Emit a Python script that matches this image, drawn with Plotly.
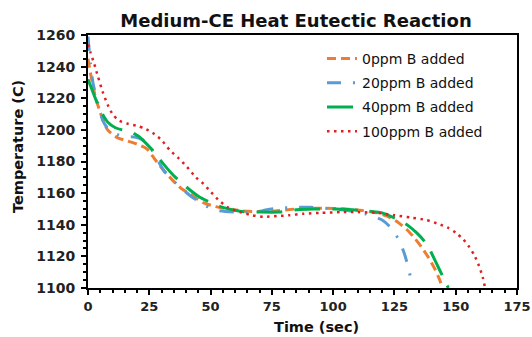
import plotly.graph_objects as go

title_text = "Medium-CE Heat Eutectic Reaction"
x_title = "Time (sec)"
y_title = "Temperature (C)"

series_names = ["0ppm B added", "20ppm B added", "40ppm B added", "100ppm B added"]

t_0ppm = [0, 1, 2, 3, 5, 8, 12, 16, 20, 24, 27, 30, 34, 38, 42, 47, 52, 57, 65, 75, 85, 95, 105, 112, 118, 122, 126, 130, 133, 136, 139, 141.5, 143.5, 144.5]
T_0ppm = [1245, 1236, 1228, 1221, 1211, 1200, 1195, 1193, 1191, 1188, 1182, 1176, 1169, 1163, 1159, 1154, 1151.5, 1150, 1148.5, 1148.5, 1150, 1150.5, 1150, 1149, 1147.5, 1145.5, 1142, 1137, 1132, 1126, 1119, 1112, 1105, 1100]

t_20ppm = [0, 1, 2, 4, 6, 8, 10, 14, 19, 22, 25, 28, 31, 36, 42, 48, 53, 60, 68, 73, 78, 85, 91, 100, 108, 113, 117, 120, 123, 125, 127, 129, 130.5, 131.5, 132.2]
T_20ppm = [1259, 1242, 1230, 1217, 1206, 1201, 1198.5, 1196, 1195.5, 1194, 1190, 1182, 1174, 1166, 1158, 1152, 1149, 1148, 1148, 1149.5, 1150.5, 1151, 1151, 1150, 1148.5, 1147, 1145, 1143, 1139, 1135, 1130, 1122, 1114, 1107, 1101]

t_40ppm = [0, 1, 2, 3.5, 5.5, 8, 11, 14, 17, 19, 21, 24, 27, 31, 35, 40, 45, 50, 55, 62, 70, 78, 85, 92, 100, 108, 115, 120, 124, 128, 131, 134, 137, 139.5, 142, 144.5, 147]
T_40ppm = [1232, 1228, 1224, 1218, 1211, 1205, 1201.5, 1200, 1199.5, 1197.5, 1195.5, 1191, 1186, 1178, 1171, 1164, 1158, 1154, 1151, 1148.5, 1148, 1148, 1149.5, 1150, 1150, 1149.5, 1148.5, 1147.5, 1145, 1142, 1139, 1135, 1130, 1124, 1116, 1108, 1100]

t_100ppm = [0, 1, 2.5, 4, 6, 8, 10, 12.5, 16, 20, 23, 26.5, 30, 33.5, 37, 40.4, 44, 47, 50, 53, 57, 62, 67, 72, 77, 82, 88, 95, 103, 110, 118, 125, 132, 138, 143, 147, 150, 153, 155.5, 157.5, 159.5, 161, 162]
T_100ppm = [1254, 1249, 1242, 1234, 1224, 1216, 1210, 1206, 1204, 1202.5, 1201, 1198, 1193.5, 1187, 1182, 1176.5, 1170, 1166, 1161, 1156, 1151, 1148, 1146, 1145, 1145.5, 1146, 1147, 1147.5, 1148, 1148, 1147.5, 1146, 1144.5, 1143, 1140.5, 1138, 1135, 1131, 1126, 1121, 1114, 1107, 1100]

x_ticks = [0, 25, 50, 75, 100, 125, 150, 175]
y_ticks = [1100, 1120, 1140, 1160, 1180, 1200, 1220, 1240, 1260]

FONT = "DejaVu Sans, Verdana, sans-serif"

styles = [
    dict(color="#ED7D31", width=3, dash="9px,5px"),
    dict(color="#5B9BD5", width=3, dash="14px,12px,2px,12px"),
    dict(color="#00B050", width=3, dash="26px,12px"),
    dict(color="#E02020", width=2.5, dash="2.5px,4.5px"),
]

data = [(t_0ppm, T_0ppm), (t_20ppm, T_20ppm), (t_40ppm, T_40ppm), (t_100ppm, T_100ppm)]

fig = go.Figure()
for i, ((tx, ty), name, st) in enumerate(zip(data, series_names, styles)):
    fig.add_trace(go.Scatter(x=tx, y=ty, mode="lines", name=name,
                             line=dict(shape="spline", smoothing=0.6, **st),
                             legendgroup=f"g{i}"))

axis_common = dict(
    showline=True, linecolor="black", linewidth=2, mirror=True,
    ticks="outside", ticklen=5, tickwidth=2, tickcolor="black",
    showgrid=False, zeroline=False, automargin=False, ticklabeloverflow="allow",
    minor=dict(ticks="outside", ticklen=3, tickwidth=1.5, tickcolor="black", showgrid=False, dtick=5),
)

# body margin is removed in the page, so figure coords equal page coords
W, H = 532, 337
pl, pr, pt, pb = 88, 517, 35, 288


def paper(px, py):
    return (px - pl) / (pr - pl), (pb - py) / (pb - pt)


xtx, xty = paper(316, 327)
ytx, yty = paper(18, 147)
lgx, lgy = paper(322, 43)

fig.update_layout(
    width=W, height=H,
    margin=dict(l=pl, r=W - pr, t=pt, b=H - pb),
    paper_bgcolor="white", plot_bgcolor="white",
    title=dict(text=title_text, x=296 / W, xanchor="center", y=1 - 21 / H, yanchor="middle",
               font=dict(family=FONT, size=18, color="#111", weight="bold")),
    xaxis=dict(range=[0, 175], tickvals=x_ticks, ticktext=[str(v) for v in x_ticks],
               tickfont=dict(family=FONT, size=13, color="#222", weight="bold"),
               **axis_common),
    yaxis=dict(range=[1100, 1260], tickvals=y_ticks, ticktext=[str(v) for v in y_ticks],
               tickfont=dict(family=FONT, size=14, color="#222", weight="bold"),
               ticklabelstandoff=3, **axis_common),
    legend=dict(x=lgx, y=lgy, xanchor="left", yanchor="top", bgcolor="rgba(0,0,0,0)",
                font=dict(family=FONT, size=14, color="#111"),
                traceorder="grouped", tracegroupgap=3),
    showlegend=True,
    annotations=[
        dict(text=x_title, x=xtx, y=xty, xref="paper", yref="paper",
             xanchor="center", yanchor="middle", showarrow=False,
             font=dict(family=FONT, size=14.5, color="#111", weight="bold")),
        dict(text=y_title, x=ytx, y=yty, xref="paper", yref="paper",
             xanchor="center", yanchor="middle", showarrow=False, textangle=-90,
             font=dict(family=FONT, size=14.5, color="#111", weight="bold")),
    ],
)

fig.write_html("out.html",
               config={"displayModeBar": False},
               post_script="document.body.style.margin='0px';document.body.style.overflow='hidden';")
